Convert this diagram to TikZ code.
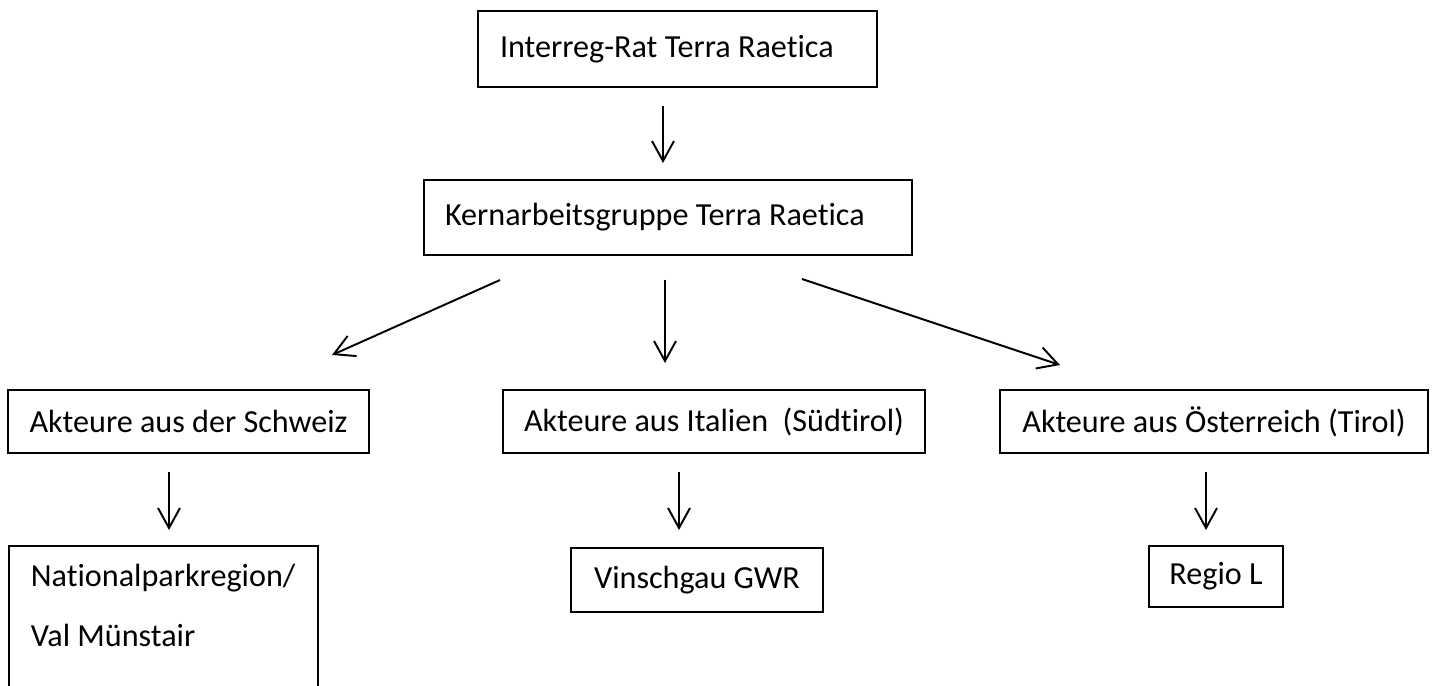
\documentclass[tikz,border=0pt]{standalone}
\usepackage{fontspec}
\setmainfont{Carlito}[Ligatures=NoCommon]
\usepackage{tikz}
\usetikzlibrary{arrows.meta, positioning}

\begin{document}
\begin{tikzpicture}[
    kasten/.style={draw, line width=1.1pt, rectangle, inner ysep=0pt,
        font=\fontsize{18.3}{22}\selectfont},
    pfeil/.style={line width=1.1pt, -{Straight Barb[length=0.4cm,width=0.44cm]}}
]
            \useasboundingbox (0,0) rectangle (28.7,-13.72);
            % Leitung
            \node[kasten, text width=7.10cm, inner xsep=0.44cm, align=flush left, minimum height=1.52cm] (rat) at (13.55,-0.98) {Interreg-Rat Terra Raetica};
            \node[kasten, text width=8.92cm, inner xsep=0.42cm, align=flush left, minimum height=1.50cm] (kern) at (13.36,-4.35) {Kernarbeitsgruppe Terra Raetica};
            % Akteure
            \node[kasten, minimum width=7.22cm, minimum height=1.26cm] (ch) at (3.77,-8.43) {Akteure aus der Schweiz};
            \node[kasten, minimum width=8.44cm, minimum height=1.26cm] (it) at (14.28,-8.43) {Akteure aus Italien\ \ (Südtirol)};
            \node[kasten, minimum width=8.56cm, minimum height=1.26cm] (at) at (24.28,-8.43) {Akteure aus Österreich (Tirol)};
            % Regionen
            \node[kasten, anchor=north west, text width=5.30cm, inner xsep=0.44cm, inner ysep=0.36cm, align=flush left, font=\fontsize{18.3}{34}\selectfont] (np) at (0.16,-10.9) {Nationalparkregion/\\ Val Münstair\\ \mbox{}};
            \node[kasten, minimum width=5.04cm, minimum height=1.28cm] (vin) at (13.94,-11.6) {Vinschgau GWR};
            \node[kasten, minimum width=2.68cm, minimum height=1.22cm] (regio) at (24.32,-11.53) {Regio L};
            % Pfeile
            \coordinate (p1a) at (13.26,-2.12);  \coordinate (p1b) at (13.26,-3.26);
            \coordinate (p2a) at (10.0,-5.6);    \coordinate (p2b) at (6.64,-7.1);
            \coordinate (p3a) at (13.3,-5.6);    \coordinate (p3b) at (13.3,-7.26);
            \coordinate (p4a) at (16.04,-5.58);  \coordinate (p4b) at (21.2,-7.3);
            \coordinate (p5a) at (3.38,-9.44);   \coordinate (p5b) at (3.38,-10.6);
            \coordinate (p6a) at (13.58,-9.44);  \coordinate (p6b) at (13.58,-10.6);
            \coordinate (p7a) at (24.12,-9.44);  \coordinate (p7b) at (24.12,-10.6);
            \foreach \i in {1,...,7}
                \draw[pfeil] (p\i a) -- (p\i b);
        \end{tikzpicture}
\end{document}
